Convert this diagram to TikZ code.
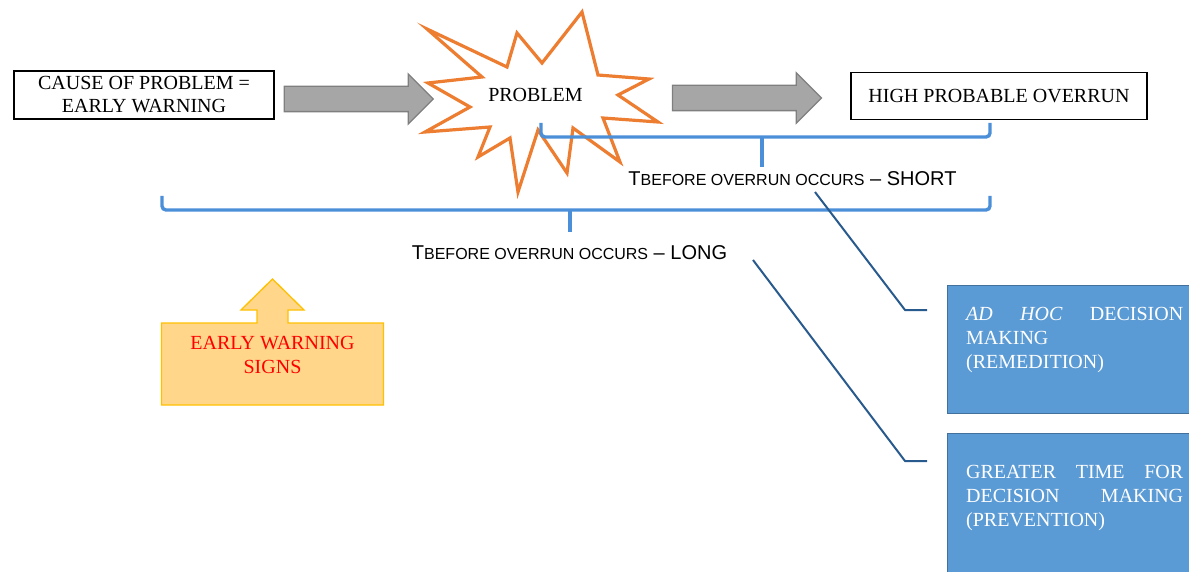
\documentclass[tikz,border=0pt]{standalone}
\usepackage{fontspec}
\setmainfont{Liberation Serif}
\setsansfont{Liberation Sans}
\usepackage{tikz}
\usetikzlibrary{
        arrows,
        positioning,
        shapes,
        shapes.arrows
    }
\definecolor{arrowgray}{HTML}{A6A6A6}
\definecolor{arrowedge}{HTML}{7F7F7F}
\definecolor{burstorange}{HTML}{ED7D31}
\definecolor{braceblue}{HTML}{4A8FD8}
\definecolor{linkblue}{HTML}{285A8E}
\definecolor{boxblue}{HTML}{5B9BD5}
\definecolor{boxedge}{HTML}{41719C}
\definecolor{warnfill}{HTML}{FFD68A}
\definecolor{warnedge}{HTML}{FFC000}
\definecolor{warnred}{HTML}{FF0000}
\tikzset{>=stealth',node distance=2cm}
\tikzset{
        plainbox/.style={draw=black,line width=1.3pt,fill=white,align=center,inner sep=0pt,font=\fontsize{20}{23}\selectfont},
        blockarrow/.style={single arrow,draw=arrowedge,fill=arrowgray,line width=1.3pt,minimum height=149pt,inner sep=12pt,single arrow head extend=12.5pt,single arrow tip angle=90,single arrow head indent=0pt},
        burst/.style={draw=burstorange,fill=white,line width=3.2pt,line join=miter},
        brace/.style={draw=braceblue,line width=3.4pt,rounded corners=4pt},
        link/.style={draw=linkblue,line width=2pt},
        bluebox/.style={draw=boxedge,fill=boxblue,line width=1.3pt,anchor=north west},
        bluetext/.style={text=white,text width=217pt,align=left,inner sep=0pt,anchor=north west,font=\fontsize{20}{24}\selectfont}
    }
\newcommand{\tbefore}[1]{{\fontsize{20}{24}\selectfont T}{\fontsize{16}{19}\selectfont BEFORE OVERRUN OCCURS}{\fontsize{20}{24}\selectfont{} – #1}}

\begin{document}
\begin{tikzpicture}[x=1pt,y=-1pt]
                \tikzset{tlabel/.style={inner sep=0pt,font=\sffamily}}
                \useasboundingbox (0,0) rectangle (1189,572);
                \clip (0,0) rectangle (1189,572);
                \node[plainbox,minimum width=260pt,minimum height=48pt] (cause) at (144,95) {CAUSE OF PROBLEM =\\EARLY WARNING};
                \node[blockarrow,right=9pt of cause,yshift=-4pt] (arrowa) {};
                \filldraw[burst] (427,29) -- (507,67) -- (517,33) -- (542,63) -- (582,12) -- (598,75)
                        -- (649,79) -- (618,95) -- (658,122) -- (603,118) -- (620,162) -- (573,128)
                        -- (567,173) -- (538,130) -- (518,192) -- (510,138) -- (478,157) -- (490,127)
                        -- (425,132) -- (470,107) -- (428,83) -- (482,77) -- cycle;
                \node[inner sep=0pt,font=\fontsize{20}{23}\selectfont] (problem) at (535.5,95) {PROBLEM};
                \node[plainbox,minimum width=296pt,minimum height=47pt] (overrun) at (999,96) {HIGH PROBABLE OVERRUN};
                \node[blockarrow,left=28pt of overrun,yshift=-2pt] (arrowb) {};
                \draw[brace] (541,123) -- (541,137) -- (990,137) -- (990,123);
                \draw[brace] (762,137) -- (762,167);
                \draw[brace] (162,196) -- (162,210) -- (990,210) -- (990,196);
                \draw[brace] (570,210) -- (570,232);
                \node[tlabel] (short) at (792.5,179) {\tbefore{SHORT}};
                \node[tlabel] (long) at (569.5,253) {\tbefore{LONG}};
                \filldraw[draw=warnedge,fill=warnfill,line width=1.3pt] (161.5,405) -- (161.5,323) -- (257,323)
                        -- (257,310) -- (241,310) -- (272.5,279) -- (304,310) -- (288,310) -- (288,323)
                        -- (383.5,323) -- (383.5,405) -- cycle;
                \node[inner sep=0pt,align=center,text=warnred,font=\fontsize{20}{24}\selectfont] (signs) at (272.5,355) {EARLY WARNING\\SIGNS};
                \node[bluebox,minimum width=270pt,minimum height=128pt] (remedy) at (947,285) {};
                \node[bluetext] (remedytxt) at (966,307) {\textit{AD}\hfill\textit{HOC}\hfill DECISION\\MAKING\\(REMEDITION)};
                \node[bluebox,minimum width=270pt,minimum height=160pt] (prevent) at (947,433) {};
                \node[bluetext] (preventtxt) at (966,465) {GREATER\hfill TIME\hfill FOR\\DECISION\hfill MAKING\\(PREVENTION)};
                \coordinate (shortend) at (815,192);
                \coordinate (longend) at (753,260);
                \coordinate (kinka) at (905,310);
                \coordinate (kinkb) at (905,461);
                \draw[link] (shortend) -- (kinka) -- ([xshift=-20pt]remedy.west |- kinka);
                \draw[link] (longend) -- (kinkb) -- ([xshift=-20pt]prevent.west |- kinkb);
\end{tikzpicture}
\end{document}
